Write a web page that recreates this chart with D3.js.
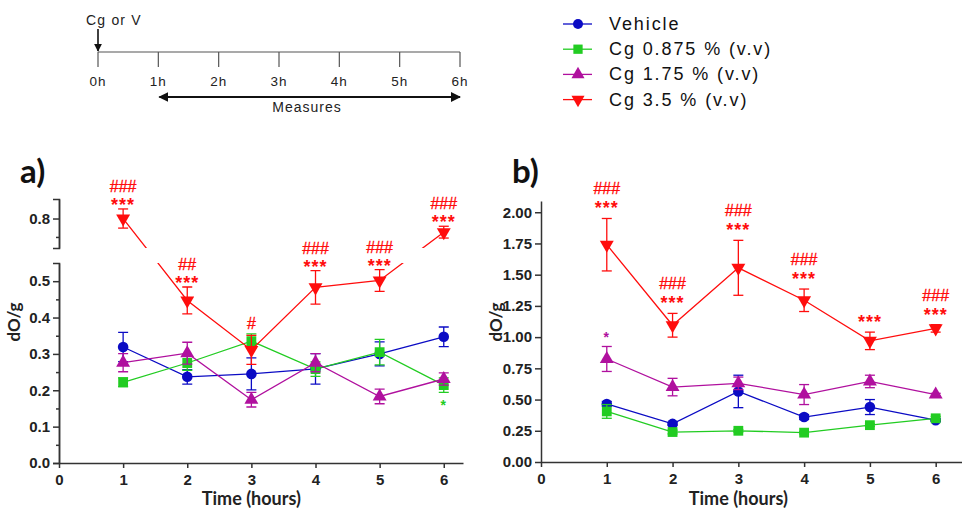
<!DOCTYPE html>
<html lang="en">
<head>
<meta charset="utf-8">
<title>dO/g time course</title>
<script src="https://d3js.org/d3.v7.min.js"></script>
<style>
  body { margin: 0; background: #fff; }
  text { font-family: "Liberation Sans", Arial, sans-serif; }
</style>
</head>
<body>
<script>
  // ---- data ----
  var hours = [1, 2, 3, 4, 5, 6];
  var seriesNames = ["Vehicle", "Cg 0.875 % (v.v)", "Cg 1.75 % (v.v)", "Cg 3.5 % (v.v)"];
  var timelineLabels = ["0h", "1h", "2h", "3h", "4h", "5h", "6h"];

  // panel a) means and sem
  var aVehicle     = [0.319, 0.237, 0.245, 0.259, 0.300, 0.347];
  var aVehicleSem  = [0.040, 0.020, 0.044, 0.042, 0.033, 0.027];
  var aCg0875      = [0.222, 0.275, 0.335, 0.258, 0.305, 0.214];
  var aCg0875Sem   = [0.012, 0.020, 0.020, 0.020, 0.035, 0.020];
  var aCg175       = [0.276, 0.302, 0.174, 0.276, 0.183, 0.231];
  var aCg175Sem    = [0.025, 0.030, 0.020, 0.025, 0.020, 0.017];
  var aCg35        = [0.800, 0.447, 0.311, 0.483, 0.502, 0.763];
  var aCg35Sem     = [0.026, 0.037, 0.040, 0.046, 0.030, 0.016];

  // panel b) means and sem
  var bVehicle     = [0.465, 0.305, 0.565, 0.360, 0.440, 0.335];
  var bVehicleSem  = [0.020, 0.010, 0.130, 0.020, 0.060, 0.010];
  var bCg0875      = [0.405, 0.240, 0.250, 0.235, 0.295, 0.350];
  var bCg0875Sem   = [0.055, 0.015, 0.010, 0.010, 0.010, 0.015];
  var bCg175       = [0.825, 0.600, 0.630, 0.540, 0.645, 0.540];
  var bCg175Sem    = [0.100, 0.070, 0.050, 0.080, 0.050, 0.010];
  var bCg35        = [1.740, 1.095, 1.555, 1.295, 0.970, 1.070];
  var bCg35Sem     = [0.210, 0.095, 0.220, 0.090, 0.070, 0.030];

  // significance marks (index = hour - 1)
  var aRedHash   = ["###", "##", "#", "###", "###", "###"];
  var aRedStar   = ["***", "***", "", "***", "***", "***"];
  var aGreenStar = ["", "", "", "", "", "*"];
  var bRedHash   = ["###", "###", "###", "###", "", "###"];
  var bRedStar   = ["***", "***", "***", "***", "***", "***"];
  var bMagStar   = ["*", "", "", "", "", ""];

  var colors = ["#0b0bc4", "#22cc22", "#b0109e", "#ff0d0d"];
  var shapes = [d3.symbolCircle, d3.symbolSquare, d3.symbolTriangle, d3.symbolTriangle];
  var shapeSize = [88, 96, 84, 84];
  var axisColor = "#333";

  var svg = d3.select("body").append("svg")
    .attr("width", 962)
    .attr("height", 511);

  // ---------- timeline at the top ----------
  var tl = d3.scaleLinear().domain([0, 6]).range([98, 460]);
  var defs = svg.append("defs");
  defs.append("marker")
    .attr("id", "head")
    .attr("viewBox", "0 0 10 10")
    .attr("refX", 9).attr("refY", 5)
    .attr("markerWidth", 5).attr("markerHeight", 5)
    .attr("orient", "auto-start-reverse")
    .append("path").attr("d", "M0,0L10,5L0,10z").attr("fill", "#111");

  svg.append("line")
    .attr("x1", tl(0)).attr("x2", tl(6)).attr("y1", 52).attr("y2", 52)
    .attr("stroke", "#555").attr("stroke-width", 1.2);
  svg.selectAll(".tlTick")
    .data(timelineLabels)
    .enter().append("line")
    .attr("x1", (d, i) => tl(i)).attr("x2", (d, i) => tl(i))
    .attr("y1", 52).attr("y2", 67)
    .attr("stroke", "#555").attr("stroke-width", 1.2);
  svg.selectAll(".tlLabel")
    .data(timelineLabels)
    .enter().append("text")
    .attr("x", (d, i) => tl(i)).attr("y", 86)
    .attr("text-anchor", "middle")
    .style("font-size", "13.5px").style("letter-spacing", "1px")
    .attr("fill", "#222")
    .text(d => d);
  svg.append("text")
    .attr("x", 86).attr("y", 25)
    .style("font-size", "14px").style("letter-spacing", "1.2px")
    .attr("fill", "#222")
    .text("Cg or V");
  svg.append("line")
    .attr("x1", tl(0)).attr("x2", tl(0)).attr("y1", 29).attr("y2", 51)
    .attr("stroke", "#111").attr("stroke-width", 1.6)
    .attr("marker-end", "url(#head)");
  svg.append("line")
    .attr("x1", tl(1) + 1).attr("x2", tl(6)).attr("y1", 97).attr("y2", 97)
    .attr("stroke", "#111").attr("stroke-width", 2)
    .attr("marker-start", "url(#head)")
    .attr("marker-end", "url(#head)");
  svg.append("text")
    .attr("x", 307).attr("y", 112)
    .attr("text-anchor", "middle")
    .style("font-size", "14px").style("letter-spacing", "1px")
    .attr("fill", "#222")
    .text("Measures");

  // ---------- legend ----------
  var legend = svg.append("g");
  var legendRows = legend.selectAll("g")
    .data(seriesNames)
    .enter().append("g")
    .attr("transform", (d, i) => `translate(578, ${24 + i * 25.2})`);
  legendRows.append("line")
    .attr("x1", -15).attr("x2", 14)
    .attr("stroke", (d, i) => colors[i]).attr("stroke-width", 1.3);
  legendRows.append("path")
    .attr("d", (d, i) => d3.symbol(shapes[i], shapeSize[i] - 10)())
    .attr("transform", (d, i) => i == 3 ? "rotate(180)" : null)
    .attr("fill", (d, i) => colors[i]);
  legendRows.append("text")
    .attr("x", 31).attr("y", 6)
    .style("font-size", "18px").style("letter-spacing", "1.9px")
    .attr("fill", "#111")
    .text(d => d);

  // ---------- helper to draw one panel ----------
  function drawPanel(p) {
    var g = svg.append("g");
    var content = g.append("g");
    if (p.clip) content.attr("clip-path", "url(#" + p.clip + ")");

    var sets = p.series.map((s, i) => hours.map((h, j) => ({h: h, v: s[j], e: p.sems[i][j]})));

    sets.forEach(function (pts, i) {
      var line = d3.line().x(d => p.x(d.h)).y(d => p.y(d.v));
      var sg = content.append("g");
      sg.append("path")
        .attr("d", line(pts))
        .attr("fill", "none")
        .attr("stroke", colors[i])
        .attr("stroke-width", 1.3);
      // error bars
      var eb = sg.selectAll(".eb").data(pts).enter().append("g");
      eb.append("line")
        .attr("x1", d => p.x(d.h)).attr("x2", d => p.x(d.h))
        .attr("y1", d => p.y(d.v - d.e)).attr("y2", d => p.y(d.v + d.e))
        .attr("stroke", colors[i]).attr("stroke-width", 1.3);
      [-1, 1].forEach(function (s) {
        eb.append("line")
          .attr("x1", d => p.x(d.h) - 5).attr("x2", d => p.x(d.h) + 5)
          .attr("y1", d => p.y(d.v + s * d.e)).attr("y2", d => p.y(d.v + s * d.e))
          .attr("stroke", colors[i]).attr("stroke-width", 1.3);
      });
      sg.selectAll(".pt").data(pts).enter().append("path")
        .attr("d", d3.symbol(shapes[i], shapeSize[i])())
        .attr("transform", d => `translate(${p.x(d.h)},${p.y(d.v)})` + (i == 3 ? " rotate(180)" : ""))
        .attr("fill", colors[i]);
    });

    // significance marks
    p.marks.forEach(function (m) {
      var pts = sets[m.series];
      pts.forEach(function (d, j) {
        var top = p.y(d.v + d.e);
        var star = m.star[j], hash = m.hash ? m.hash[j] : "";
        if (star) {
          var sy = m.below ? p.y(d.v - d.e) + 18 : top - p.starGap;
          g.append("text")
            .attr("x", p.x(d.h)).attr("y", sy)
            .attr("text-anchor", "middle")
            .style("font-size", m.size || "18px")
            .style("font-weight", "bold")
            .style("letter-spacing", "1px")
            .attr("fill", colors[m.series])
            .text(star);
        }
        if (hash) {
          g.append("text")
            .attr("x", p.x(d.h)).attr("y", top - (star ? p.hashGap : 6))
            .attr("text-anchor", "middle")
            .style("font-size", "16px")
            .attr("fill", colors[m.series])
            .attr("stroke", colors[m.series])
            .attr("stroke-width", 0.35)
            .text(hash);
        }
      });
    });

    // x axis
    g.append("g")
      .attr("transform", `translate(0, ${p.x0y})`)
      .call(d3.axisBottom(p.x).tickValues([0, 1, 2, 3, 4, 5, 6]).tickFormat(d3.format("d")).tickSize(5).tickSizeOuter(0))
      .call(a => a.selectAll("text").style("font-size", "15px").style("font-weight", "bold").attr("fill", "#222").attr("dy", "0.9em"))
      .call(a => a.selectAll("path, line").attr("stroke", axisColor).attr("stroke-width", 1.5));

    g.append("text")
      .attr("x", p.x(3)).attr("y", 505)
      .attr("text-anchor", "middle")
      .style("font-family", "Lato, 'Open Sans', sans-serif")
      .style("font-weight", "bold").style("font-size", "18px")
      .attr("fill", "#222")
      .text("Time (hours)");

    g.append("text")
      .attr("transform", `translate(${p.ylabX}, 322) rotate(-90)`)
      .attr("text-anchor", "middle")
      .style("font-family", "Lato, 'Open Sans', sans-serif")
      .style("font-weight", "bold").style("font-size", "17px")
      .attr("fill", "#222")
      .text("dO/g");

    g.append("text")
      .attr("x", p.tagX).attr("y", 183)
      .style("font-family", "Lato, 'Open Sans', sans-serif")
      .style("font-weight", "bold").style("font-size", "33px")
      .attr("fill", "#111")
      .text(p.tag);
    return g;
  }

  function styleY(a) {
    a.selectAll("text").style("font-size", "15px").style("font-weight", "bold").attr("fill", "#222");
    a.selectAll("path, line").attr("stroke", axisColor).attr("stroke-width", 1.5);
  }

  // ---------- panel a (broken y axis) ----------
  var xa = d3.scaleLinear().domain([0, 6.3]).range([59, 463]);
  var yaLow = d3.scaleLinear().domain([0, 0.55]).range([463, 263]);
  var yaHigh = d3.scaleLinear().domain([0.72, 0.853]).range([248, 199]);
  var ya = function (v) { return v > 0.6 ? yaHigh(v) : yaLow(v); };

  var clip = defs.append("clipPath").attr("id", "brk");
  clip.append("rect").attr("x", 0).attr("y", 0).attr("width", 480).attr("height", 248);
  clip.append("rect").attr("x", 0).attr("y", 263).attr("width", 480).attr("height", 248);

  var ga = drawPanel({
    x: xa, y: ya, x0y: 463, clip: "brk",
    series: [aVehicle, aCg0875, aCg175, aCg35],
    sems: [aVehicleSem, aCg0875Sem, aCg175Sem, aCg35Sem],
    marks: [
      {series: 3, star: aRedStar, hash: aRedHash},
      {series: 1, star: aGreenStar, size: "14px", below: true}
    ],
    starGap: -2, hashGap: 17,
    ylabX: 20, tag: "a)", tagX: 20
  });

  var lowAxis = ga.append("g").attr("transform", "translate(59,0)")
    .call(d3.axisLeft(yaLow).tickValues([0, 0.1, 0.2, 0.3, 0.4, 0.5]).tickFormat(d3.format(".1f")).tickSize(6).tickSizeOuter(6));
  styleY(lowAxis);
  var lowMinor = ga.append("g").attr("transform", "translate(59,0)")
    .call(d3.axisLeft(yaLow).tickValues([0.05, 0.15, 0.25, 0.35, 0.45]).tickFormat("").tickSize(3).tickSizeOuter(0));
  styleY(lowMinor);
  var highAxis = ga.append("g").attr("transform", "translate(59,0)")
    .call(d3.axisLeft(yaHigh).tickValues([0.8]).tickFormat(d3.format(".1f")).tickSize(6).tickSizeOuter(6));
  styleY(highAxis);
  var highMinor = ga.append("g").attr("transform", "translate(59,0)")
    .call(d3.axisLeft(yaHigh).tickValues([0.75]).tickFormat("").tickSize(3).tickSizeOuter(0));
  styleY(highMinor);

  // ---------- panel b ----------
  var xb = d3.scaleLinear().domain([0, 6.4]).range([541, 962]);
  var yb = d3.scaleLinear().domain([0, 2.09]).range([462, 201]);

  var gb = drawPanel({
    x: xb, y: yb, x0y: 462,
    series: [bVehicle, bCg0875, bCg175, bCg35],
    sems: [bVehicleSem, bCg0875Sem, bCg175Sem, bCg35Sem],
    marks: [
      {series: 3, star: bRedStar, hash: bRedHash},
      {series: 2, star: bMagStar, size: "14px"}
    ],
    starGap: 4, hashGap: 24,
    ylabX: 502, tag: "b)", tagX: 512
  });

  var bAxis = gb.append("g").attr("transform", "translate(541,0)")
    .call(d3.axisLeft(yb).tickValues(d3.range(0, 2.01, 0.25)).tickFormat(d3.format(".2f")).tickSize(6).tickSizeOuter(0));
  styleY(bAxis);
</script>
</body>
</html>
